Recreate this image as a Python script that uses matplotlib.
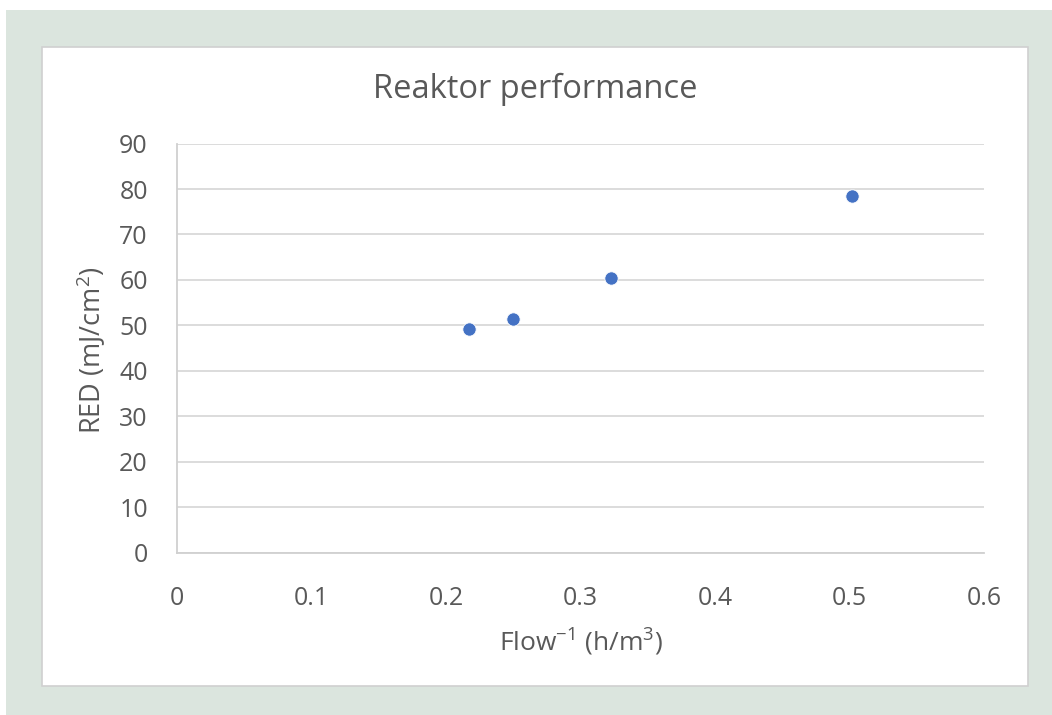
import matplotlib
matplotlib.use("Agg")
import matplotlib.pyplot as plt
from matplotlib.patches import Rectangle

plt.rcParams['font.family'] = ['Open Sans', 'DejaVu Sans']

flow_inv = [0.217, 0.250, 0.323, 0.502]
red = [49.2, 51.4, 60.4, 78.5]
x_ticks = [0, 0.1, 0.2, 0.3, 0.4, 0.5, 0.6]
x_tick_labels = ['0', '0.1', '0.2', '0.3', '0.4', '0.5', '0.6']
y_ticks = [0, 10, 20, 30, 40, 50, 60, 70, 80, 90]

W, H = 1052, 715
fig = plt.figure(figsize=(W / 100, H / 100), dpi=100)
fig.patch.set_facecolor('white')

def px(x0, y0, x1, y1):
    return (x0 / W, 1 - y1 / H, (x1 - x0) / W, (y1 - y0) / H)

bx, by, bw, bh = px(6, 10, 1052, 715)
fig.patches.append(Rectangle((bx, by), bw, bh, transform=fig.transFigure,
                             facecolor='#dbe5de', edgecolor='none', zorder=-3))
bx, by, bw, bh = px(42, 47, 1028, 686)
fig.patches.append(Rectangle((bx, by), bw, bh, transform=fig.transFigure,
                             facecolor='white', edgecolor='#d0d0d0', linewidth=1.2, zorder=-2))

ax = fig.add_axes(px(177, 143.6, 984, 552.5))
ax.set_facecolor('none')
ax.scatter(flow_inv, red, s=92, color='#4472c4', edgecolors='white', linewidths=0.6, zorder=3)

ax.set_xlim(0, 0.6)
ax.set_ylim(0, 90)
ax.set_xticks(x_ticks)
ax.set_xticklabels(x_tick_labels)
ax.set_yticks(y_ticks)
ax.grid(axis='y', color='#d9d9d9', linewidth=1.3)
ax.set_axisbelow(True)
for s in ['top', 'right']:
    ax.spines[s].set_visible(False)
for s in ['left', 'bottom']:
    ax.spines[s].set_color('#d0d0d0')
    ax.spines[s].set_linewidth(1.3)
ax.tick_params(length=0, labelsize=18, colors='#595959')
ax.tick_params(axis='x', pad=24)
ax.tick_params(axis='y', pad=21)

fig.text(535 / W, 1 - 89 / H, 'Reaktor performance', fontsize=23.5, color='#595959',
         ha='center', va='center')

xl = ax.set_xlabel(r'Flow$^{\mathregular{-1}}$ (h/m$^{\mathregular{3}}$)', fontsize=19, color='#595959')
ax.xaxis.set_label_coords(0.5, (552.5 - 641) / 408.9)
xl.set_verticalalignment('center')
yl = ax.set_ylabel(r'RED (mJ/cm$^{\mathregular{2}}$)', fontsize=19.5, color='#595959')
ax.yaxis.set_label_coords((92 - 177) / 807, (552.5 - 350) / 408.9)
yl.set_verticalalignment('center')
yl.set_horizontalalignment('center')

fig.savefig('out.png', dpi=100)
